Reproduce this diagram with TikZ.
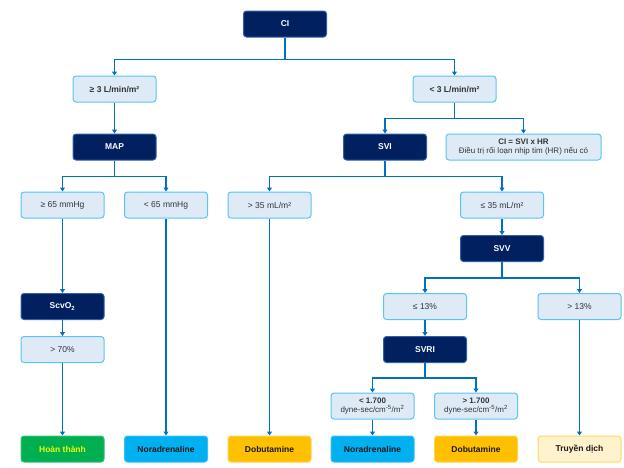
\documentclass[tikz,border=0pt]{standalone}
\usepackage{fontspec}
\setmainfont{Liberation Sans}
\usetikzlibrary{arrows.meta}
\definecolor{navy}{HTML}{002060}
\definecolor{navyline}{HTML}{2E5FA8}
\definecolor{lightfill}{HTML}{DEEBF7}
\definecolor{lightline}{HTML}{5BC3F2}
\definecolor{arrowblue}{HTML}{0070C0}
\definecolor{okgreen}{HTML}{00B050}
\definecolor{donetext}{HTML}{E8FF00}
\definecolor{cyanfill}{HTML}{00B0F0}
\definecolor{amber}{HTML}{FFC000}
\definecolor{cream}{HTML}{FFF2CC}
\definecolor{creamline}{HTML}{FFD966}
\definecolor{txt}{HTML}{333333}
\definecolor{dtxt}{HTML}{1A1A1A}
\tikzset{
  box/.style={rounded corners=3pt, minimum width=83pt, minimum height=26pt, line width=1pt, align=center, inner sep=1pt, font=\fontsize{8.5}{10}\selectfont},
  dark/.style={box, fill=navy, draw=navyline, text=white, font=\fontsize{8.5}{10}\selectfont\bfseries},
  light/.style={box, fill=lightfill, draw=lightline, text=txt},
  lightb/.style={light, font=\fontsize{8.5}{10}\selectfont\bfseries},
  done/.style={box, fill=okgreen, draw=okgreen!80!white, text=donetext, font=\fontsize{8.5}{10}\selectfont\bfseries},
  nora/.style={box, fill=cyanfill, draw=cyanfill!80!white, text=dtxt, font=\fontsize{8.5}{10}\selectfont\bfseries},
  dobu/.style={box, fill=amber, draw=amber!70!white, text=dtxt, font=\fontsize{8.5}{10}\selectfont\bfseries},
  fluid/.style={box, fill=cream, draw=creamline, text=dtxt, font=\fontsize{8.5}{10}\selectfont\bfseries},
  conn/.style={draw=arrowblue, line width=1.5pt},
  arr/.style={conn, -{Triangle[width=5pt,length=4pt]}},
}
\begin{document}
\begin{tikzpicture}[x=1pt,y=-1pt]
\useasboundingbox (0,0) rectangle (624,467);
% row 0
\node[dark] (ci) at (285,24) {CI};
% row 1
\node[lightb] (ge3) at (114.5,89) {≥ 3 L/min/m²};
\node[lightb] (lt3) at (454.5,89) {< 3 L/min/m²};
% row 2
\node[dark] (map) at (114.5,147) {MAP};
\node[dark] (svi) at (385,147) {SVI};
\node[light, minimum width=155pt, font=\fontsize{8}{9.5}\selectfont] (hr) at (523.5,147) {\textbf{CI = SVI x HR}\\Điều trị rối loạn nhịp tim (HR) nếu có};
% row 3
\node[light] (ge65) at (62.5,205) {≥ 65 mmHg};
\node[light] (lt65) at (166,205) {< 65 mmHg};
\node[light] (gt35) at (269.5,205) {> 35 mL/m²};
\node[light] (le35) at (502,205) {≤ 35 mL/m²};
% row 4
\node[dark] (svv) at (502,248.5) {SVV};
% row 5
\node[dark] (scv) at (62.5,306.5) {ScvO\textsubscript{2}};
\node[light] (le13) at (425,306.5) {≤ 13\%};
\node[light] (gt13) at (579.5,306.5) {> 13\%};
% row 6
\node[light] (gt70) at (62.5,349.5) {> 70\%};
\node[dark] (svri) at (425,349.5) {SVRI};
% row 7
\node[light, font=\fontsize{8}{9.5}\selectfont] (lt17) at (372.5,406) {\textbf{< 1.700}\\dyne-sec/cm\textsuperscript{-5}/m\textsuperscript{2}};
\node[light, font=\fontsize{8}{9.5}\selectfont] (gt17) at (476,406) {\textbf{> 1.700}\\dyne-sec/cm\textsuperscript{-5}/m\textsuperscript{2}};
% bottom row
\node[done] (fin) at (62.5,449) {Hoàn thành};
\node[nora] (nor1) at (166,449) {Noradrenaline};
\node[dobu] (dob1) at (269.5,449) {Dobutamine};
\node[nora] (nor2) at (372.5,449) {Noradrenaline};
\node[dobu] (dob2) at (476,449) {Dobutamine};
\node[fluid] (flu) at (579.5,449) {Truyền dịch};
% connectors
\draw[conn] (ci.south) -- ++(0,22) coordinate (j1);
\draw[arr] (j1) -| (ge3.north);
\draw[arr] (j1) -| (lt3.north);
\draw[arr] (ge3) -- (map);
\draw[conn] (lt3.south) -- ++(0,16) coordinate (j2);
\draw[arr] (j2) -| (svi.north);
\draw[arr] (j2) -| (hr.north);
\draw[conn] (map.south) -- ++(0,16) coordinate (j3);
\draw[arr] (j3) -| (ge65.north);
\draw[arr] (j3) -| (lt65.north);
\draw[conn] (svi.south) -- ++(0,16) coordinate (j4);
\draw[arr] (j4) -| (gt35.north);
\draw[arr] (j4) -| (le35.north);
\draw[arr] (le35) -- (svv);
\draw[conn] (svv.south) -- ++(0,16) coordinate (j5);
\draw[arr] (j5) -| (le13.north);
\draw[arr] (j5) -| (gt13.north);
\draw[arr] (le13) -- (svri);
\draw[conn] (svri.south) -- ++(0,15) coordinate (j6);
\draw[arr] (j6) -| (lt17.north);
\draw[arr] (j6) -| (gt17.north);
\draw[arr] (ge65) -- (scv);
\draw[arr] (scv) -- (gt70);
\draw[arr] (gt70) -- (fin);
\draw[arr] (lt65) -- (nor1);
\draw[arr] (gt35) -- (dob1);
\draw[arr] (gt13) -- (flu);
\draw[arr] (lt17) -- (nor2);
\draw[arr] (gt17) -- (dob2);
\end{tikzpicture}
\end{document}
